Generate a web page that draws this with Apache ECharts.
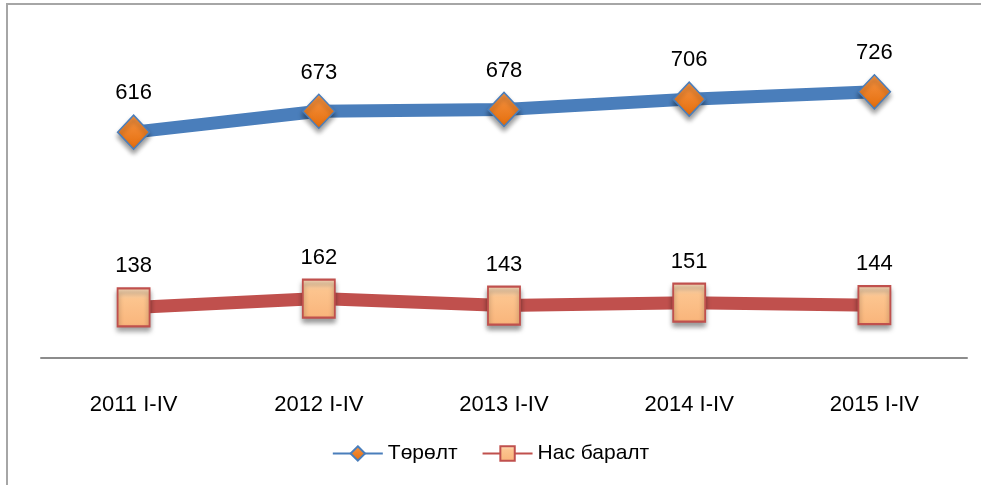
<!DOCTYPE html>
<html>
<head>
<meta charset="utf-8">
<script src="https://cdn.jsdelivr.net/npm/echarts@6/dist/echarts.min.js"></script>
<style>
  html, body { margin: 0; padding: 0; background: #fff; }
  #chart { width: 981px; height: 485px; }
</style>
</head>
<body>
<div id="chart"></div>
<script>
const categories = ['2011 I-IV', '2012 I-IV', '2013 I-IV', '2014 I-IV', '2015 I-IV']
const births = [616, 673, 678, 706, 726]
const deaths = [138, 162, 143, 151, 144]

const chart = echarts.init(document.getElementById('chart'))

const font = 'Liberation Sans, Arial, sans-serif'

const labelStyle = {
  show: true,
  position: 'top',
  distance: 10,
  color: '#000',
  fontSize: 22,
  fontFamily: font
}

const option = {
  animation: false,
  graphic: [{
    type: 'rect',
    shape: { x: 7, y: 4, width: 1000, height: 520 },
    style: { fill: 'none', stroke: '#a6a6a6', lineWidth: 2 },
    silent: true
  }],
  grid: { left: 41, right: 14, top: 28, bottom: 127 },
  legend: {
    bottom: 16,
    left: 'center',
    itemWidth: 50,
    itemHeight: 18,
    itemGap: 24,
    textStyle: { fontSize: 21, color: '#000', fontFamily: font },
    data: ['Төрөлт', 'Нас баралт']
  },
  xAxis: {
    type: 'category',
    data: categories,
    axisLine: { lineStyle: { color: '#8c8c8c', width: 2 } },
    axisTick: { show: false },
    axisLabel: {
      color: '#000',
      fontSize: 22,
      margin: 36,
      fontFamily: font
    }
  },
  yAxis: {
    type: 'value',
    min: 0,
    max: 900,
    show: false,
    splitLine: { show: false }
  },
  series: [
    {
      name: 'Төрөлт',
      type: 'line',
      data: births,
      symbol: 'diamond',
      symbolSize: [32, 34],
      lineStyle: { color: '#4a7ebb', width: 13 },
      itemStyle: {
        color: new echarts.graphic.LinearGradient(0, 0, 0, 1, [
          { offset: 0, color: '#f79646' },
          { offset: 1, color: '#e46c0a' }
        ]),
        borderColor: '#4a7ebb',
        borderWidth: 1.5,
        shadowColor: 'rgba(0,0,0,0.4)',
        shadowBlur: 5,
        shadowOffsetY: 4
      },
      label: labelStyle
    },
    {
      name: 'Нас баралт',
      type: 'line',
      data: deaths,
      symbol: 'rect',
      symbolSize: [32, 38],
      lineStyle: { color: '#c0504d', width: 13 },
      itemStyle: {
        color: new echarts.graphic.LinearGradient(0, 0, 0, 1, [
          { offset: 0, color: '#ffe4c4' },
          { offset: 0.3, color: '#fcc48e' },
          { offset: 1, color: '#f9b47a' }
        ]),
        borderColor: '#c0504d',
        borderWidth: 2,
        shadowColor: 'rgba(0,0,0,0.4)',
        shadowBlur: 5,
        shadowOffsetY: 4
      },
      label: labelStyle
    }
  ]
}

chart.setOption(option)
</script>
</body>
</html>
